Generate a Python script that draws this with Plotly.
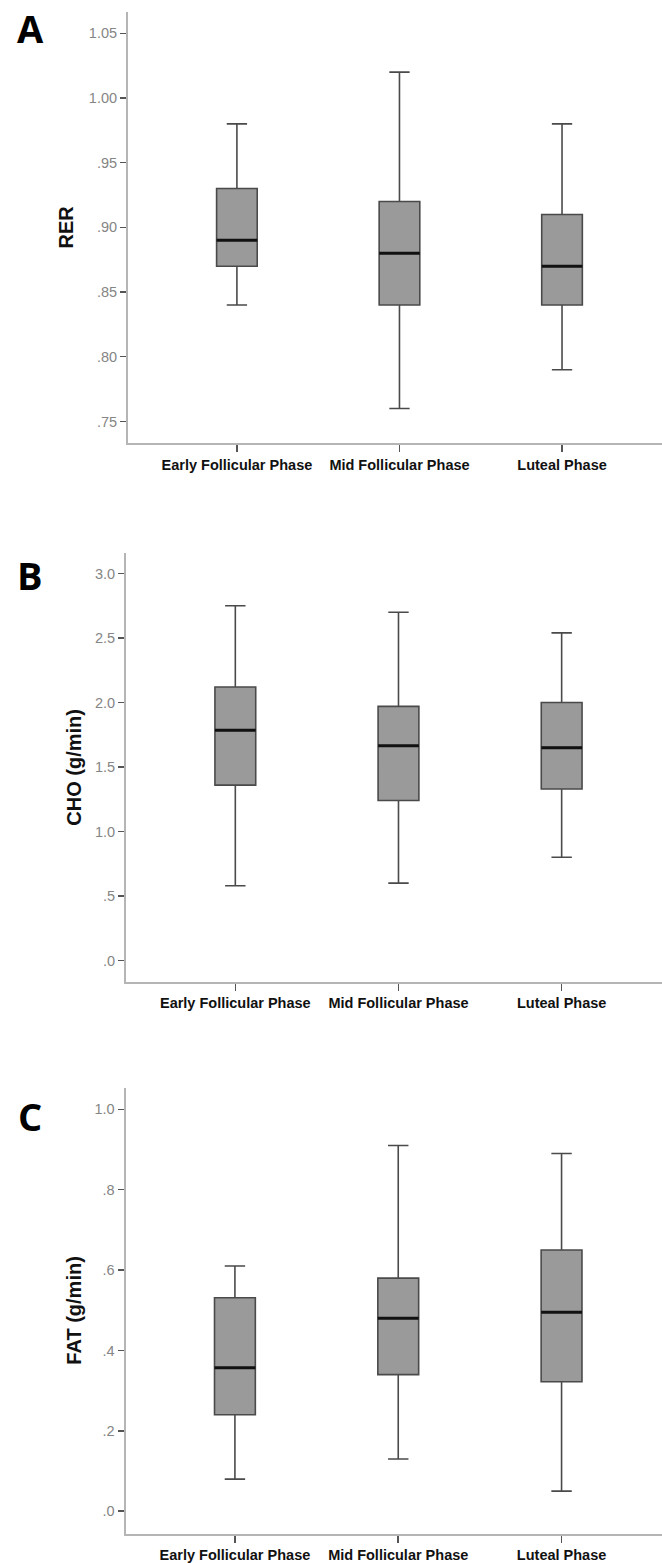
import plotly.graph_objects as go

categories = ["Early Follicular Phase", "Mid Follicular Phase", "Luteal Phase"]

# Panel A: RER
rer_low = [0.840, 0.760, 0.790]
rer_q1 = [0.870, 0.840, 0.840]
rer_med = [0.890, 0.880, 0.870]
rer_q3 = [0.930, 0.920, 0.910]
rer_high = [0.980, 1.020, 0.980]

# Panel B: CHO (g/min)
cho_low = [0.58, 0.60, 0.80]
cho_q1 = [1.36, 1.24, 1.33]
cho_med = [1.785, 1.665, 1.650]
cho_q3 = [2.12, 1.97, 2.00]
cho_high = [2.75, 2.70, 2.54]

# Panel C: FAT (g/min)
fat_low = [0.080, 0.130, 0.050]
fat_q1 = [0.240, 0.340, 0.322]
fat_med = [0.357, 0.480, 0.495]
fat_q3 = [0.531, 0.580, 0.650]
fat_high = [0.610, 0.910, 0.890]

rer_ticks = [0.75, 0.80, 0.85, 0.90, 0.95, 1.00, 1.05]
rer_ticktext = [".75", ".80", ".85", ".90", ".95", "1.00", "1.05"]
cho_ticks = [0.0, 0.5, 1.0, 1.5, 2.0, 2.5, 3.0]
cho_ticktext = [".0", ".5", "1.0", "1.5", "2.0", "2.5", "3.0"]
fat_ticks = [0.0, 0.2, 0.4, 0.6, 0.8, 1.0]
fat_ticktext = [".0", ".2", ".4", ".6", ".8", "1.0"]

panel_letters = ["A", "B", "C"]
y_titles = ["RER", "CHO (g/min)", "FAT (g/min)"]

W, H = 662, 1563
BOX_FILL = "#9a9a9a"
BOX_LINE = "#4a4a4a"
FONT = "Liberation Sans, Arial, sans-serif"

panels = [
    dict(low=rer_low, q1=rer_q1, med=rer_med, q3=rer_q3, high=rer_high,
         ticks=rer_ticks, ticktext=rer_ticktext, yrange=[0.733, 1.0667],
         px=(11.7, 444.0), xleft=128),
    dict(low=cho_low, q1=cho_q1, med=cho_med, q3=cho_q3, high=cho_high,
         ticks=cho_ticks, ticktext=cho_ticktext, yrange=[-0.167, 3.157],
         px=(554.0, 983.3), xleft=126),
    dict(low=fat_low, q1=fat_q1, med=fat_med, q3=fat_q3, high=fat_high,
         ticks=fat_ticks, ticktext=fat_ticktext, yrange=[-0.056, 1.054],
         px=(1089.0, 1535.7), xleft=125.5),
]

fig = go.Figure()
layout = dict(
    width=W, height=H,
    margin=dict(l=0, r=0, t=0, b=0),
    paper_bgcolor="white", plot_bgcolor="white",
    showlegend=False,
    font=dict(family=FONT),
    annotations=[],
)

for i, p in enumerate(panels):
    sfx = "" if i == 0 else str(i + 1)
    xa, ya = "x" + sfx, "y" + sfx
    fig.add_trace(go.Box(
        x=categories, q1=p["q1"], median=p["med"], q3=p["q3"],
        lowerfence=p["low"], upperfence=p["high"],
        fillcolor=BOX_FILL, line=dict(color=BOX_LINE, width=1.6),
        width=0.25, whiskerwidth=0.5, boxpoints=False,
        xaxis=xa, yaxis=ya, hoverinfo="skip",
    ))
    # thick black median line overlay
    fig.add_trace(go.Box(
        x=categories, q1=p["med"], median=p["med"], q3=p["med"],
        lowerfence=p["med"], upperfence=p["med"],
        fillcolor="rgba(0,0,0,0)", line=dict(color="#111111", width=3),
        width=0.25, whiskerwidth=0, boxpoints=False,
        xaxis=xa, yaxis=ya, hoverinfo="skip",
    ))
    top_px, bot_px = p["px"]
    layout["xaxis" + sfx] = dict(
        domain=[p["xleft"] / W, 1.0],
        anchor=ya, type="category",
        range=[-0.67, 2.615],
        showline=True, linecolor="#b5b5b5", linewidth=2,
        ticks="outside", ticklen=7, tickwidth=1.5, tickcolor="#555555",
        tickfont=dict(family=FONT, size=14.5, color="#111111", weight="bold"),
        showgrid=False, zeroline=False, fixedrange=True,
    )
    layout["yaxis" + sfx] = dict(
        domain=[1 - bot_px / H, 1 - top_px / H],
        anchor=xa, range=p["yrange"],
        tickmode="array", tickvals=p["ticks"], ticktext=p["ticktext"],
        showline=True, linecolor="#b5b5b5", linewidth=2,
        ticks="outside", ticklen=6, tickwidth=1.5, tickcolor="#555555",
        tickfont=dict(family=FONT, size=14.5, color="#858585"),
        showgrid=False, zeroline=False, fixedrange=True,
    )
    mid_y = 1 - ((top_px + bot_px) / 2) / H
    layout["annotations"].append(dict(
        text=y_titles[i], xref="paper", yref="paper",
        x=(66 if i == 0 else 74) / W, y=mid_y,
        xanchor="center", yanchor="middle", textangle=-90, showarrow=False,
        font=dict(family=FONT, size=20, color="#111111", weight="bold"),
    ))

letter_pos = [(30, 28), (30, 576), (30, 1117)]
for letter, (lx, ly) in zip(panel_letters, letter_pos):
    layout["annotations"].append(dict(
        text=letter, xref="paper", yref="paper",
        x=lx / W, y=1 - ly / H, xanchor="center", yanchor="middle",
        showarrow=False,
        font=dict(family="Open Sans, Liberation Sans, sans-serif", size=38,
                  color="#000000", weight="bold"),
    ))

fig.update_layout(**layout)
fig.write_html(
    "out.html",
    config={"displayModeBar": False, "staticPlot": True},
    post_script="document.body.style.margin='0';document.body.style.padding='0';",
)
